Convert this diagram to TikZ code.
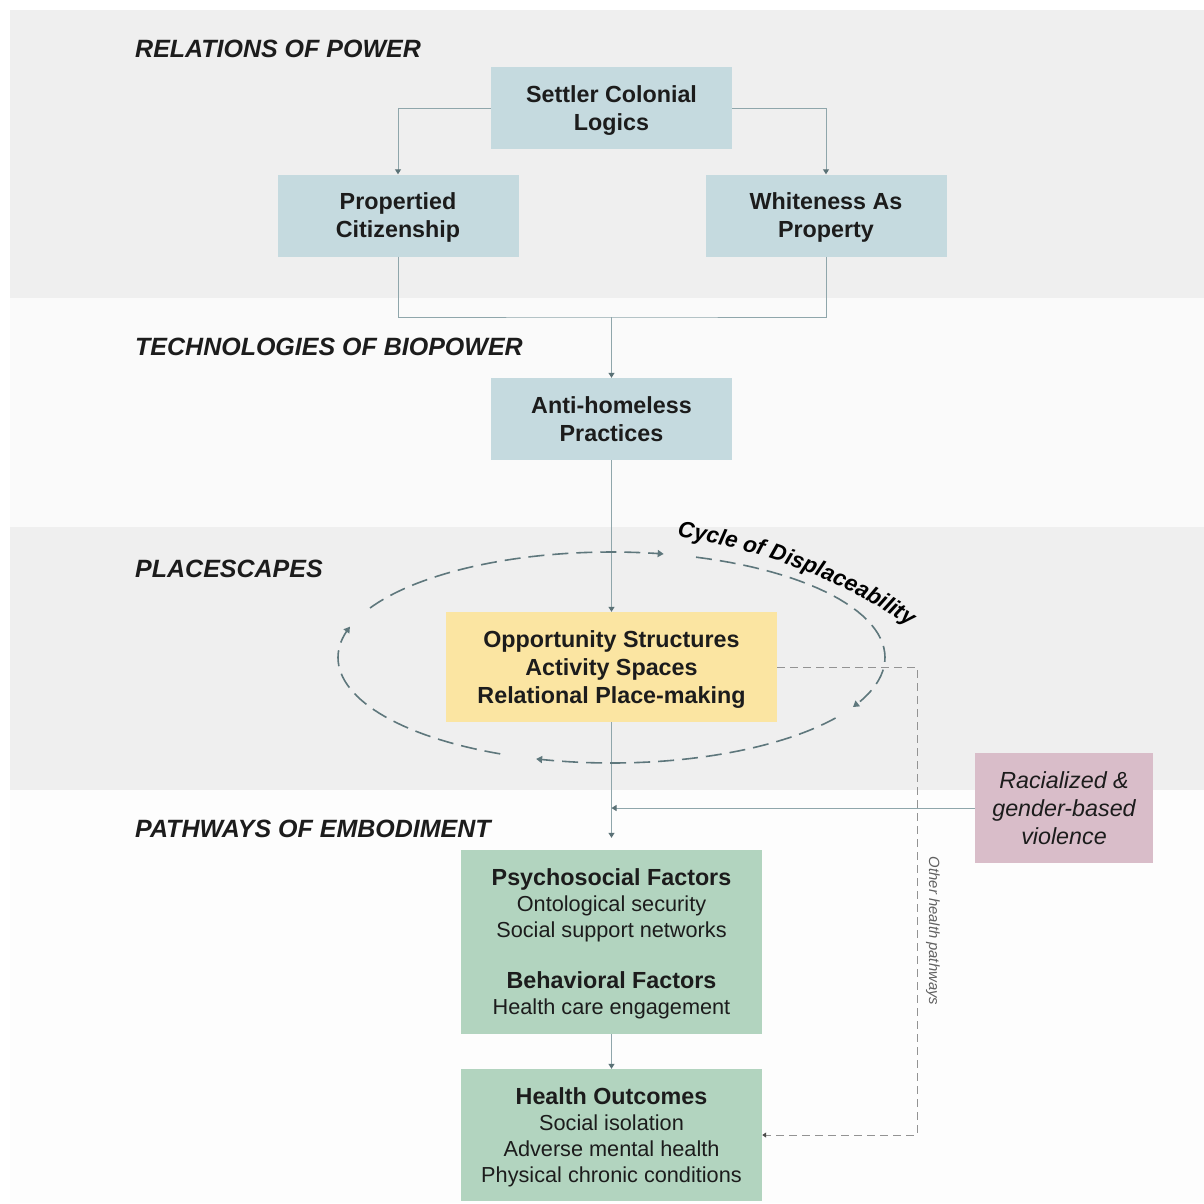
\documentclass[tikz,border=0pt]{standalone}
\usepackage{fontspec}
\setmainfont{Liberation Sans}
\usetikzlibrary{arrows.meta,decorations.text}

\definecolor{bandgray}{HTML}{EFEFEF}
\definecolor{bandlight}{HTML}{FAFAFA}
\definecolor{bandwhite}{HTML}{FDFDFD}
\definecolor{powerblue}{HTML}{C5DADF}
\definecolor{placeyellow}{HTML}{FBE5A2}
\definecolor{bodygreen}{HTML}{B2D4BF}
\definecolor{violpink}{HTML}{D9BDC9}
\definecolor{linkgray}{HTML}{8FA6AB}
\definecolor{tipgray}{HTML}{5A7176}
\definecolor{cyclegray}{HTML}{5E777C}
\definecolor{inkgray}{HTML}{1C1C1C}

\newcommand{\headfont}{\fontsize{25}{30}\selectfont\bfseries\itshape}
\newcommand{\boxfont}{\fontsize{23.3}{28}\selectfont\bfseries}
\newcommand{\listfont}{\fontsize{21.7}{26}\selectfont}
\newcommand{\cyclefont}{\fontsize{22.5}{26}\selectfont\bfseries\itshape}

\tikzset{
   heading/.style={anchor=base west,inner sep=0pt,font=\headfont,text=inkgray},
   powerbox/.style={fill=powerblue,minimum width=241pt,minimum height=82pt,inner sep=0pt,text depth=0pt,align=center,font=\boxfont,text=inkgray},
   placebox/.style={fill=placeyellow,minimum width=331pt,minimum height=110pt,inner sep=0pt,text depth=0pt,align=center,font=\boxfont,text=inkgray},
   bodybox/.style={fill=bodygreen,minimum width=301pt,inner sep=0pt,text depth=0pt,align=center,font=\listfont,text=inkgray},
   violbox/.style={fill=violpink,minimum width=178pt,minimum height=110pt,inner sep=0pt,text depth=0pt,align=center,font=\fontsize{23.3}{28}\selectfont\itshape,text=inkgray},
   link/.style={draw=linkgray,line width=1pt},
   arrow/.style={link,-{Triangle[width=6pt,length=5pt,color=tipgray]}},
   cyclepath/.style={draw=cyclegray,line width=1.6pt,dash pattern=on 16pt off 8pt,-{Triangle[width=7pt,length=6pt]}},
   otherlink/.style={draw=gray!85,line width=1pt,dash pattern=on 8pt off 5pt,-{Triangle[width=5pt,length=4pt,color=gray!60!black]}}
}

\begin{document}
\begin{tikzpicture}[x=1pt,y=-1pt]
   \useasboundingbox (0,0) rectangle (1204,1203);
   \fill[bandgray] (10,10) rectangle (1204,298);
   \fill[bandlight] (10,298) rectangle (1204,527);
   \fill[bandgray] (10,527) rectangle (1204,790);
   \fill[bandwhite] (10,790) rectangle (1204,1203);

   \node[heading] (powerlabel) at (135,57) {RELATIONS OF POWER};
   \node[heading] (biolabel) at (135,355) {TECHNOLOGIES OF BIOPOWER};
   \node[heading] (placelabel) at (135,577) {PLACESCAPES};
   \node[heading] (bodylabel) at (135,837) {PATHWAYS OF EMBODIMENT};

   \node[powerbox] (settler) at (611.5,108) {Settler Colonial\\Logics};
   \node[powerbox] (prop) at (398,215.5) {Propertied\\Citizenship};
   \node[powerbox] (white) at (826,215.5) {Whiteness As\\Property};
   \node[powerbox] (anti) at (611.5,419) {Anti-homeless\\Practices};
   \node[placebox] (opp) at (611.5,667) {Opportunity Structures\\Activity Spaces\\Relational Place-making};
   \node[bodybox,minimum height=184pt] (psy) at (611.5,942)
      {{\boxfont Psychosocial Factors}\\Ontological security\\Social support networks\\[25pt]{\boxfont Behavioral Factors}\\Health care engagement};
   \node[bodybox,minimum height=132pt] (out) at (611.5,1135)
      {{\boxfont Health Outcomes}\\Social isolation\\Adverse mental health\\Physical chronic conditions};
   \node[violbox] (viol) at (1064,808) {Racialized \&\\gender-based\\violence};

   \coordinate (join) at (611.5,317);
   \coordinate (side) at (917,0);
   \draw[arrow] (settler.west) -| (prop.north);
   \draw[arrow] (settler.east) -| (white.north);
   \draw[link] (prop.south) |- (join) -| (white.south);
   \draw[arrow] (join) -- (anti.north);
   \draw[arrow] (anti.south) -- (opp.north);
   \draw[arrow,shorten >=12pt] (opp.south) -- (psy.north);
   \draw[arrow] (viol.west) -- (viol.west -| opp.south);
   \draw[arrow] (psy.south) -- (out.north);
   \draw[otherlink] (opp.east) -- (opp.east -| side) |- (out.east);
   \node[rotate=-90,font=\fontsize{14.8}{17}\selectfont\itshape,text=gray!75!black] (otherlabel) at (933,931) {Other health pathways};

   \foreach \a/\b in {152/79,72/-28,-35/-106,-114/-197} {
    \draw[cyclepath] plot[domain=\a:\b,samples=40] ({611.5+273.5*cos(\x)},{657.5-105.5*sin(\x)});
   }
   \path[decorate,decoration={text along path,text align=left,text={|\cyclefont|Cycle of Displaceability}}]
      (677,537) .. controls (770,550) and (862,588) .. (935,645);
\end{tikzpicture}
\end{document}
